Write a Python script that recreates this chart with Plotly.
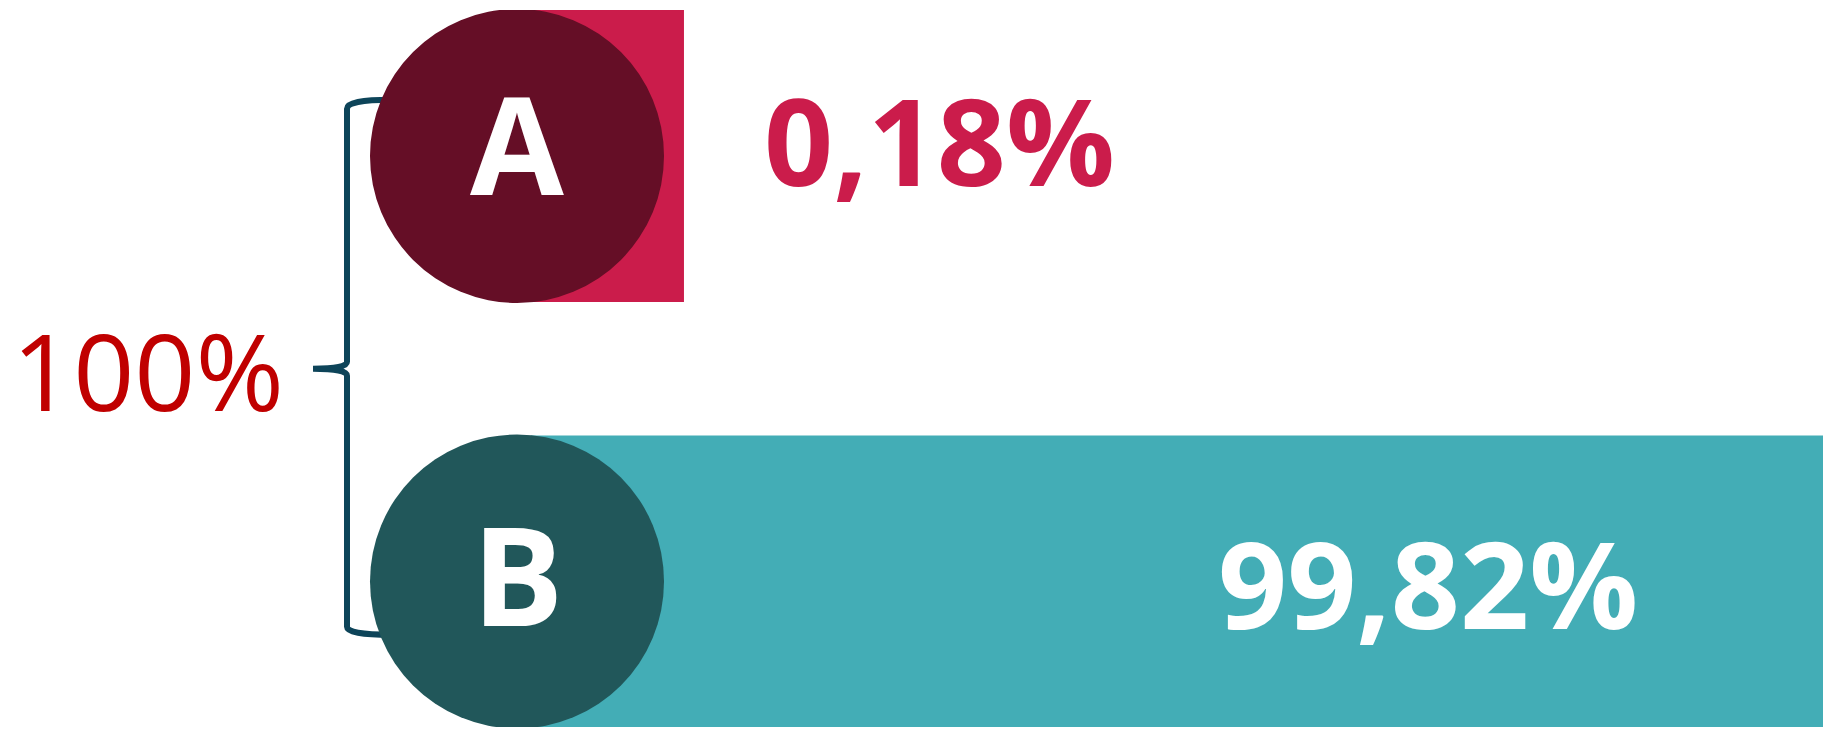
import math
import plotly.graph_objects as go

# ---- data ----
categories = ["A", "B"]
shares = [0.18, 99.82]
share_labels = ["0,18%", "99,82%"]
total_label = "100%"

bar_colors = ["#CB1C4B", "#43ADB6"]
circle_colors = ["#650E26", "#21575A"]
label_colors = ["#CB1C4B", "#FFFFFF"]
bracket_color = "#0D4459"

# page body has an 8px default margin -> figure is 8px smaller on each axis
W, H = 1823, 727
ML, MR, MT, MB = 523, 7, 2, 8

fig = go.Figure()
fig.add_trace(go.Bar(
    y=categories, x=shares, orientation="h",
    marker=dict(color=bar_colors, line=dict(width=0)),
    width=0.686, hoverinfo="skip", showlegend=False,
))

# bracket (pixel path anchored at plot-left edge, midway between categories)
bracket_path = ("M -140,269 Q -184,269 -184,260 L -184,7 Q -184,0 -218,0 "
                "Q -184,0 -184,-7 L -184,-258 Q -184,-266 -140,-266")
shapes = [dict(type="path", xref="paper", yref="y", xsizemode="pixel", ysizemode="pixel",
               xanchor=0, yanchor=0.5, path=bracket_path,
               line=dict(color=bracket_color, width=6), layer="above")]

annotations = []
for i, cat in enumerate(categories):
    shapes.append(dict(type="circle", xref="paper", yref="y",
                       xsizemode="pixel", ysizemode="pixel",
                       xanchor=0, yanchor=cat, x0=-161, x1=133, y0=-147, y1=147,
                       fillcolor=circle_colors[i], line=dict(width=0), layer="above"))
    annotations.append(dict(text=f"<b>{cat}</b>", xref="paper", yref="y", x=0, y=cat,
                            xshift=-14, yshift=13 if i == 0 else 8,
                            showarrow=False, xanchor="center", yanchor="middle",
                            font=dict(family="Open Sans", size=136, color="#FFFFFF")))

# value labels
annotations.append(dict(text=f"<b>{share_labels[0]}</b>", xref="x", yref="y",
                        x=math.log10(shares[0]), y=categories[0], xanchor="left",
                        xshift=78, yshift=17, showarrow=False, yanchor="middle",
                        font=dict(family="Open Sans", size=121, color=label_colors[0])))
annotations.append(dict(text=f"<b>{share_labels[1]}</b>", xref="x", yref="y",
                        x=math.log10(shares[1]), y=categories[1], xanchor="right",
                        xshift=-184, yshift=-1, showarrow=False, yanchor="middle",
                        font=dict(family="Open Sans", size=121, color=label_colors[1])))
annotations.append(dict(text=total_label, xref="paper", yref="y", x=0, y=0.5,
                        xshift=-383, yshift=-1, showarrow=False,
                        xanchor="center", yanchor="middle",
                        font=dict(family="Open Sans", size=107, color="#C00000")))

fig.update_layout(
    width=W, height=H,
    margin=dict(l=ML, r=MR, t=MT, b=MB, pad=0),
    paper_bgcolor="#FFFFFF", plot_bgcolor="#FFFFFF",
    shapes=shapes, annotations=annotations,
    xaxis=dict(type="log", range=[-1.1129, 1.99922], visible=False, fixedrange=True),
    yaxis=dict(type="category", categoryarray=categories, range=[1.342, -0.343],
               visible=False, fixedrange=True),
    showlegend=False,
)

fig.write_html("out.html", config={"displayModeBar": False})
